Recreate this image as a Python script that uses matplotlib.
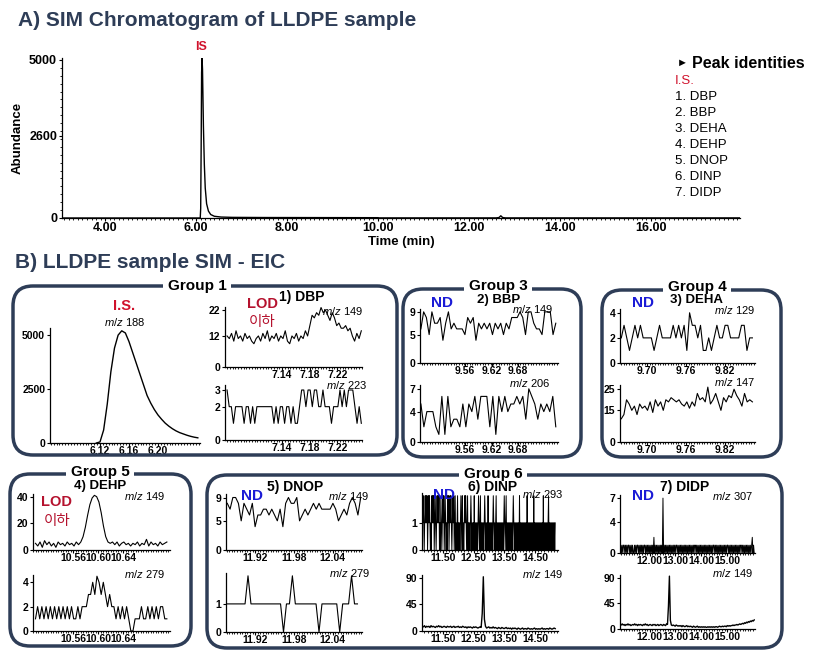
import numpy as np
import matplotlib.pyplot as plt
from matplotlib.patches import FancyBboxPatch
from matplotlib.ticker import MultipleLocator

plt.rcParams['font.family'] = ['Liberation Sans', 'Noto Sans CJK KR', 'DejaVu Sans']
plt.rcParams['mathtext.fontset'] = 'custom'
plt.rcParams['mathtext.rm'] = 'Liberation Sans'
plt.rcParams['mathtext.it'] = 'Liberation Sans:italic'
plt.rcParams['mathtext.bf'] = 'Liberation Sans:bold'

# ---- A) SIM chromatogram (time in min, abundance)
tic_time = [3.05, 6.00, 6.09, 6.10, 6.11, 6.12, 6.13, 6.14, 6.15, 6.16, 6.18, 6.20,
            6.23, 6.27, 6.32, 6.40, 6.55, 6.80, 7.50, 9.00, 10.00, 10.02, 12.60,
            12.66, 12.70, 12.74, 12.80, 17.96]
tic_abund = [0, 0, 0, 300, 2200, 4600, 5050, 4700, 3800, 2900, 1700, 950,
             450, 220, 110, 55, 30, 20, 15, 12, 10, 3, 3, 15, 70, 15, 3, 3]
peak_names = ['1. DBP', '2. BBP', '3. DEHA', '4. DEHP', '5. DNOP', '6. DINP', '7. DIDP']

# ---- B) extracted ion chromatograms
is188 = [0, 50, 600, 1800, 3300, 4400, 5000, 5200, 5100, 4700, 4200, 3700, 3200,
         2700, 2200, 1850, 1550, 1300, 1100, 920, 780, 660, 560, 480, 420, 360, 310, 270, 240]
dbp149 = [12, 11, 13, 10, 14, 11, 12, 10, 13, 11, 12, 10, 9, 11, 12, 10, 13, 11, 14, 10,
          12, 11, 13, 10, 12, 11, 14, 10, 9, 12, 11, 13, 10, 12, 11, 14, 12, 16, 20, 19,
          21, 20, 23, 21, 22, 20, 18, 21, 19, 16, 17, 15, 15, 16, 14, 15, 12, 10, 13, 11, 14]
dbp223 = [3, 2, 2, 1, 2, 2, 2, 2, 1, 2, 2, 1, 2, 1, 2, 2, 2, 2, 2, 2, 2, 2, 1, 2, 1, 2,
          2, 1, 2, 2, 1, 2, 1, 1, 2, 3, 3, 2, 3, 3, 2, 3, 3, 2, 2, 3, 2, 2, 2, 1, 2, 2,
          2, 3, 2, 3, 2, 3, 3, 3, 2, 1, 2, 1]
bbp149 = [6, 9, 8, 5, 9, 7, 7, 8, 4, 7, 9, 6, 7, 6, 6, 6, 5, 8, 7, 8, 4, 7, 6, 7, 6, 7,
          5, 7, 6, 7, 5, 7, 6, 8, 8, 8, 9, 8, 5, 9, 9, 7, 6, 6, 5, 9, 9, 9, 5, 7]
bbp206 = [5, 2, 4, 4, 4, 2, 1, 6, 1, 6, 2, 3, 3, 2, 5, 2, 5, 4, 6, 3, 6, 6, 6, 2, 6, 1,
          6, 4, 6, 4, 5, 5, 6, 5, 6, 3, 7, 6, 5, 3, 5, 4, 5, 4, 6, 2]
deha129 = [2, 3, 2, 1, 2, 3, 2, 3, 2, 2, 2, 2, 1, 2, 3, 2, 2, 2, 2, 3, 2, 3, 2, 3, 1, 4,
           3, 3, 2, 3, 1, 1, 2, 1, 2, 3, 2, 2, 3, 3, 2, 2, 2, 2, 3, 3, 1, 2, 2]
deha147 = [11, 13, 20, 18, 15, 17, 13, 18, 16, 17, 15, 19, 14, 20, 17, 19, 15, 20, 19, 21,
           20, 19, 20, 18, 17, 19, 16, 19, 17, 23, 20, 21, 19, 26, 18, 20, 23, 19, 15, 21,
           19, 22, 21, 25, 22, 20, 17, 23, 19, 20, 19]
dehp149 = [5, 3, 6, 2, 7, 4, 6, 3, 5, 2, 6, 4, 5, 3, 6, 4, 5, 3, 6, 4,
           6, 10, 17, 26, 34, 39, 41, 40, 36, 28, 18, 10, 6,
           5, 6, 4, 6, 3, 5, 6, 4, 5, 3, 5, 4, 6, 3, 5, 4, 8, 3, 6, 4, 5, 3, 6, 4, 5, 6]
dehp279 = [1, 2, 1, 2, 1, 2, 1, 2, 1, 2, 1, 2, 1, 2, 1, 2, 1, 2, 1, 1, 2, 1, 2, 2, 2, 3,
           3, 4, 3, 4.5, 4, 3, 4, 3, 2, 3, 2, 2, 1, 2, 1, 2, 1, 2, 1, 0, 0, 1, 1, 1, 2, 1,
           1, 2, 1, 2, 1, 2, 1, 2, 2, 1, 1]
dnop149 = [8, 7, 9, 9, 8, 5, 8, 7, 6, 8, 4, 6, 6, 7, 7, 6, 7, 6, 5, 7, 4, 8, 9, 8, 8, 9,
           5, 6, 7, 6, 7, 8, 7, 8, 7, 7, 7, 7, 8, 7, 5, 6, 7, 6, 8, 9, 8, 6, 9]
dnop279 = [1, 1, 1, 1, 1, 1, 1, 2, 1, 1, 1, 1, 1, 1, 1, 1, 1, 1, 1, 0, 1, 1, 2, 1, 1, 1,
           1, 1, 1, 1, 1, 0, 1, 1, 1, 1, 1, 1, 0, 1, 1, 1, 2, 1, 1]
dinp293 = [int(c) for c in (
    "2121012121201212101021212012101212120102101212012101021201212101212012"
    "0101201010121020101212101201010121010102010101012101201010101210101020"
    "1010101012101012010101010101010121012010101010101012101010101010201010"
    "1010101010201010101010102010101010101010101020101010101201010101010101")]
dinp149 = [8, 7, 9, 6, 8, 7, 8, 6, 9, 7, 8, 7, 6, 8, 7, 9, 7, 8, 6, 7, 8, 7, 6, 8, 7, 7,
           8, 6, 7, 8, 6, 7, 7, 8, 6, 7, 6, 8, 7, 6, 7, 5, 7, 6, 7, 6, 5, 7, 6, 7, 6, 5,
           6, 7, 6, 30, 92, 20, 8, 5, 6, 7, 5, 6, 5, 7, 5, 6, 5, 4, 6, 5, 4, 6, 5, 4, 5,
           6, 4, 5, 4, 5, 3, 5, 4, 5, 4, 3, 5, 4, 3, 4, 5, 3, 4, 4, 3, 5, 4, 3, 4, 3, 4,
           5, 3, 4, 3, 4, 3, 4, 5, 3, 4, 3, 4, 4, 3, 5, 4, 3, 4, 5, 4]
didp307 = [int(c) for c in (
    "0101011010101101010100101011010101010110101010101010"
    "2010101010101070101010101010101010110101010101010101"
    "0101010101011010101010101010101010101010110101010101"
    "0101010101101010101010101010101101010101010101012010")]
didp149 = [8, 7, 9, 7, 8, 6, 8, 7, 9, 7, 8, 6, 7, 8, 7, 9, 7, 8, 6, 8, 7, 8, 7, 6, 8, 7,
           9, 7, 8, 6, 7, 8, 7, 6, 8, 7, 8, 6, 7, 8, 6, 7, 8, 7, 6, 8, 7, 6, 9, 8,
           40, 93, 15, 7, 6, 7, 6, 5, 7, 6, 5, 6, 5, 6, 4, 6, 5, 4, 5, 6, 4, 5, 4, 5, 4,
           3, 5, 4, 3, 4, 5, 3, 4, 3, 4, 3, 4, 3, 4, 3, 3, 4, 3, 4, 3, 4, 3, 4, 3, 4, 4,
           3, 4, 5, 4, 4, 5, 4, 5, 5, 4, 6, 5, 6, 5, 6, 6, 7, 6, 7, 7, 8, 7, 8, 9, 8, 9,
           10, 9, 11, 10, 12, 11, 13, 12, 14, 13, 15, 14, 16]

W, H = 835, 651
NAVY = '#2e3d57'
RED = '#d0112b'
DARKRED = '#b5122e'
BLUE = '#1a1ad6'

fig = plt.figure(figsize=(W / 100, H / 100), dpi=100)


def px_axes(l, t, r, b):
    return fig.add_axes([l / W, 1 - b / H, (r - l) / W, (b - t) / H])


def style(ax, fs, minor, xpad=1):
    for s in ['top', 'right']:
        ax.spines[s].set_visible(False)
    for s in ['left', 'bottom']:
        ax.spines[s].set_linewidth(0.9)
    ax.tick_params(labelsize=fs, length=2.5, width=0.8, pad=1)
    ax.tick_params(axis='x', length=2, pad=xpad)
    ax.tick_params(which='minor', length=1.5, width=0.6)
    ax.xaxis.set_minor_locator(MultipleLocator(minor))
    for lab in ax.get_xticklabels() + ax.get_yticklabels():
        lab.set_fontweight('bold')
    ax.patch.set_alpha(0)


def panel(box, t0, t1, vals, xlim, ylim, xticks, yticks, minor, lw=0.8):
    ax = px_axes(*box)
    ax.plot(np.linspace(t0, t1, len(vals)), vals, color='black', lw=lw)
    ax.set_xlim(xlim)
    ax.set_ylim(ylim)
    ax.set_xticks(xticks)
    ax.set_xticklabels(['%.2f' % v for v in xticks])
    ax.set_yticks(yticks)
    ax.set_yticklabels([str(v) for v in yticks])
    style(ax, 7.5, minor, xpad=0)
    return ax


# top chromatogram
axA = px_axes(62, 58, 740, 218)
axA.plot(tic_time, tic_abund, color='black', lw=1)
axA.set_xlim(3.05, 17.96)
axA.set_ylim(0, 5060)
axA.set_xticks([4, 6, 8, 10, 12, 14, 16])
axA.set_xticklabels(['4.00', '6.00', '8.00', '10.00', '12.00', '14.00', '16.00'])
axA.set_yticks([0, 2600, 5000])
axA.set_yticklabels(['0', '2600', '5000'])
axA.yaxis.set_minor_locator(MultipleLocator(250))
style(axA, 9, 0.1)
axA.set_xlabel('Time (min)', fontsize=9.5, fontweight='bold', labelpad=1)
axA.set_ylabel('Abundance', fontsize=9.5, fontweight='bold', labelpad=4)

# group panels
panel((50, 328, 200, 443), 6.115, 6.255, is188, (6.051, 6.258), (0, 5330),
      [6.12, 6.16, 6.20], [0, 2500, 5000], 0.004, lw=1)
panel((225, 307, 362, 367), 7.06, 7.255, dbp149, (7.057, 7.256), (0, 23.2),
      [7.14, 7.18, 7.22], [0, 12, 22], 0.004)
panel((225, 385, 362, 440), 7.06, 7.255, dbp223, (7.057, 7.256), (0, 3.3),
      [7.14, 7.18, 7.22], [0, 2, 3], 0.004)
panel((420, 309, 558, 363), 9.46, 9.765, bbp149, (9.458, 9.77), (0, 9.5),
      [9.56, 9.62, 9.68], [0, 5, 9], 0.006)
panel((420, 385, 558, 442), 9.46, 9.765, bbp206, (9.458, 9.77), (0, 7.5),
      [9.56, 9.62, 9.68], [0, 4, 7], 0.006)
panel((620, 309, 755, 363), 9.66, 9.862, deha129, (9.658, 9.866), (0, 4.3),
      [9.70, 9.76, 9.82], [0, 2, 4], 0.004)
panel((620, 385, 755, 442), 9.66, 9.862, deha147, (9.658, 9.866), (0, 27),
      [9.70, 9.76, 9.82], [0, 15, 25], 0.004)
panel((33, 494, 170, 550), 10.50, 10.71, dehp149, (10.496, 10.715), (0, 42),
      [10.56, 10.60, 10.64], [0, 20, 40], 0.004)
panel((33, 575, 170, 631), 10.50, 10.71, dehp279, (10.496, 10.715), (0, 4.6),
      [10.56, 10.60, 10.64], [0, 2, 4], 0.004)
panel((226, 494, 362, 550), 11.877, 12.083, dnop149, (11.875, 12.085), (0, 9.6),
      [11.92, 11.98, 12.04], [0, 5, 9], 0.004)
panel((226, 573, 362, 632), 11.877, 12.078, dnop279, (11.875, 12.085), (0, 2.1),
      [11.92, 11.98, 12.04], [0, 1], 0.004)
panel((422, 493, 558, 550), 10.83, 15.15, dinp293, (10.82, 15.24), (0, 2.1),
      [11.5, 12.5, 13.5, 14.5], [0, 1], 0.1, lw=0.7)
panel((422, 575, 558, 631), 10.83, 15.15, dinp149, (10.82, 15.24), (0, 95),
      [11.5, 12.5, 13.5, 14.5], [0, 45, 90], 0.1, lw=1)
panel((620, 495, 755, 553), 10.86, 16.05, didp307, (10.85, 16.08), (0, 7.4),
      [12, 13, 14, 15], [0, 4, 7], 0.1, lw=0.7)
panel((620, 575, 755, 629), 10.86, 16.05, didp149, (10.85, 16.08), (0, 95),
      [12, 13, 14, 15], [0, 45, 90], 0.1, lw=1)

# overlay for boxes and annotations
ov = fig.add_axes([0, 0, 1, 1], zorder=10)
ov.set_xlim(0, W)
ov.set_ylim(H, 0)
ov.axis('off')
ov.patch.set_alpha(0)

for x0, y0, x1, y1 in [(13, 286, 397, 455), (403, 289, 581, 457), (602, 290, 781, 457),
                       (10, 474, 191, 646), (207, 475, 782, 648)]:
    ov.add_patch(FancyBboxPatch((x0, y0), x1 - x0, y1 - y0,
                                boxstyle='round,pad=0,rounding_size=20',
                                ec=NAVY, fc='none', lw=2.5))


def txt(x, y, s, size, color='black', weight='bold', ha='center', **kw):
    ov.text(x, y, s, fontsize=size, color=color, fontweight=weight, ha=ha, va='center', **kw)


white = dict(fc='white', ec='none', boxstyle='square,pad=0.3')
for x, y, s in [(197, 286, 'Group 1'), (498, 286, 'Group 3'), (697, 287, 'Group 4'),
                (100, 472, 'Group 5'), (493, 474, 'Group 6')]:
    txt(x, y, s, 11, bbox=white)

txt(18, 20, 'A) SIM Chromatogram of LLDPE sample', 15, color=NAVY, ha='left')
txt(15, 262, 'B) LLDPE sample SIM - EIC', 15, color=NAVY, ha='left')
txt(201, 47, 'IS', 9, color=RED)

# peak identities
txt(677, 63, '\u25ba', 8, ha='left')
txt(692, 63, 'Peak identities', 11.5, ha='left')
txt(675, 81, 'I.S.', 9.5, color=RED, weight='normal', ha='left')
for i, name in enumerate(peak_names):
    txt(675, 97 + 16 * i, name, 9.5, weight='normal', ha='left')

# panel annotations
txt(124, 306, 'I.S.', 10.5, color=RED)
txt(125, 322, r'$\mathit{m/z}$ 188', 8, weight='normal')
txt(262, 304, 'LOD', 10.5, color=DARKRED)
txt(262, 322, '이하', 10.5, color=DARKRED, weight='normal')
txt(302, 297, '1) DBP', 10)
txt(343, 311, r'$\mathit{m/z}$ 149', 8, weight='normal')
txt(347, 385, r'$\mathit{m/z}$ 223', 8, weight='normal')

txt(442, 303, 'ND', 11, color=BLUE)
txt(499, 300, '2) BBP', 9.5)
txt(533, 309, r'$\mathit{m/z}$ 149', 8, weight='normal')
txt(530, 383, r'$\mathit{m/z}$ 206', 8, weight='normal')

txt(643, 303, 'ND', 11, color=BLUE)
txt(697, 300, '3) DEHA', 9.5)
txt(735, 310, r'$\mathit{m/z}$ 129', 8, weight='normal')
txt(735, 382, r'$\mathit{m/z}$ 147', 8, weight='normal')

txt(57, 502, 'LOD', 10.5, color=DARKRED)
txt(57, 521, '이하', 10.5, color=DARKRED, weight='normal')
txt(100, 486, '4) DEHP', 9.5)
txt(145, 496, r'$\mathit{m/z}$ 149', 8, weight='normal')
txt(145, 574, r'$\mathit{m/z}$ 279', 8, weight='normal')

txt(252, 496, 'ND', 11, color=BLUE)
txt(295, 487, '5) DNOP', 10)
txt(349, 496, r'$\mathit{m/z}$ 149', 8, weight='normal')
txt(350, 573, r'$\mathit{m/z}$ 279', 8, weight='normal')

txt(444, 495, 'ND', 11, color=BLUE)
txt(493, 487, '6) DINP', 10)
txt(543, 494, r'$\mathit{m/z}$ 293', 8, weight='normal')
txt(543, 574, r'$\mathit{m/z}$ 149', 8, weight='normal')

txt(643, 496, 'ND', 11, color=BLUE)
txt(685, 487, '7) DIDP', 10)
txt(733, 496, r'$\mathit{m/z}$ 307', 8, weight='normal')
txt(733, 573, r'$\mathit{m/z}$ 149', 8, weight='normal')

fig.savefig('out.png', dpi=100)
